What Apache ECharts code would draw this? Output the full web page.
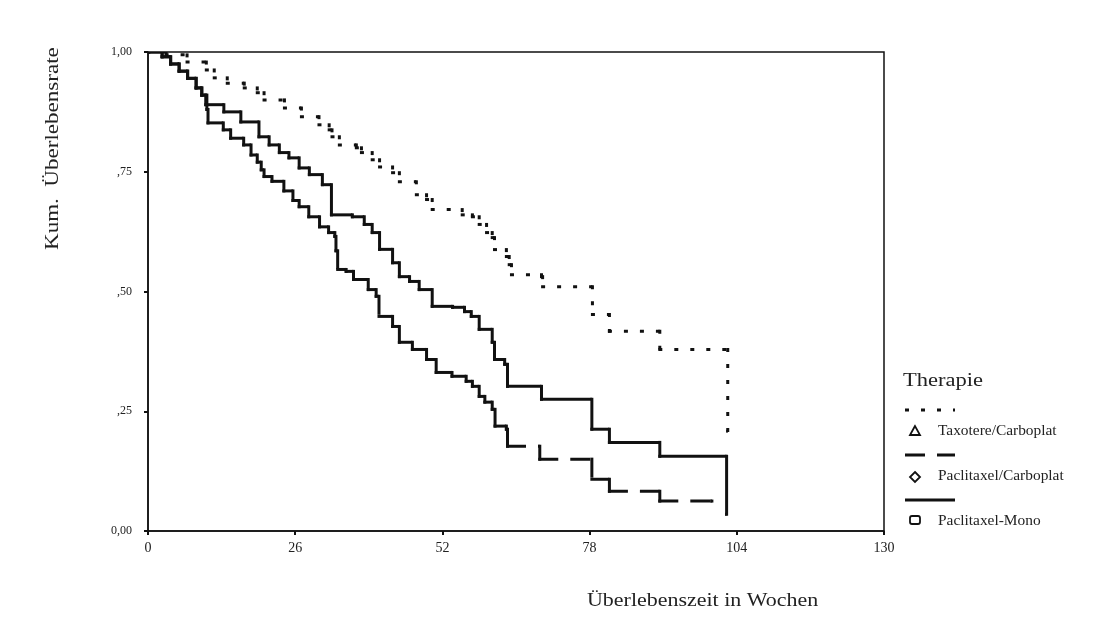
<!DOCTYPE html>
<html>
<head>
<meta charset="utf-8">
<script src="https://cdn.jsdelivr.net/npm/echarts@6/dist/echarts.min.js"></script>
<style>
  html, body { margin: 0; padding: 0; background: #fff; }
  #chart { width: 1106px; height: 644px; }
</style>
</head>
<body>
<div id="chart"></div>
<script>
// Kaplan-Meier survival curves by therapy arm: [week, cumulative survival]
const seriesNames = ['Taxotere/Carboplat', 'Paclitaxel/Carboplat', 'Paclitaxel-Mono'];

const taxotereCarbo = [
  [0, 1.0], [3.2, 0.994], [6.9, 0.979], [10.3, 0.9625], [11.7, 0.946], [14.0, 0.935],
  [17.0, 0.925], [19.3, 0.915], [20.5, 0.90], [24.1, 0.883], [27.1, 0.865], [30.2, 0.848],
  [32.0, 0.8375], [32.5, 0.823], [33.8, 0.806], [36.8, 0.80], [37.7, 0.79], [39.6, 0.775],
  [40.9, 0.76], [43.2, 0.748], [44.4, 0.729], [47.4, 0.702], [49.2, 0.692], [50.2, 0.671],
  [55.5, 0.66], [57.3, 0.656], [58.5, 0.64], [59.8, 0.623], [60.8, 0.6125], [61.2, 0.5875],
  [63.3, 0.573], [63.8, 0.556], [64.2, 0.535], [69.5, 0.531], [69.7, 0.51], [78.5, 0.452],
  [81.5, 0.417], [90.4, 0.379], [102.4, 0.208]
];

const paclitaxelCarbo = [
  [0, 1.0], [2.5, 0.99], [4, 0.975], [5.5, 0.96], [7, 0.945], [8.5, 0.925], [9.5, 0.91],
  [10.4, 0.88], [10.6, 0.852], [13.3, 0.8375], [14.6, 0.82], [16.9, 0.806], [18.2, 0.785],
  [19.3, 0.77], [20.0, 0.754], [20.5, 0.74], [21.9, 0.73], [24.0, 0.71], [25.6, 0.69],
  [26.7, 0.677], [28.4, 0.656], [30.3, 0.635], [31.9, 0.623], [33.0, 0.615], [33.2, 0.585],
  [33.5, 0.546], [35.0, 0.542], [36.3, 0.525], [38.9, 0.504], [40.3, 0.49], [40.8, 0.448],
  [43.2, 0.427], [44.4, 0.394], [46.7, 0.379], [49.2, 0.358], [50.9, 0.331], [53.7, 0.323],
  [56.2, 0.3125], [57.3, 0.302], [58.5, 0.281], [59.5, 0.269], [60.8, 0.254], [61.3, 0.219],
  [63.3, 0.2125], [63.5, 0.177], [69.2, 0.15], [78.4, 0.108], [81.5, 0.083], [90.4, 0.0625],
  [99.6, 0.0625]
];

const paclitaxelMono = [
  [0, 1.0], [2.5, 0.99], [4, 0.975], [5.5, 0.96], [7, 0.945], [8.5, 0.925], [9.5, 0.91],
  [10.2, 0.89], [13.4, 0.875], [16.4, 0.854], [19.6, 0.823], [21.4, 0.806], [23.2, 0.79],
  [24.9, 0.779], [26.7, 0.758], [28.5, 0.744], [30.8, 0.723], [32.4, 0.66], [36.1, 0.656],
  [38.2, 0.64], [39.6, 0.623], [40.9, 0.588], [43.2, 0.56], [44.4, 0.531], [46.2, 0.521],
  [47.9, 0.504], [50.2, 0.469], [53.8, 0.467], [55.9, 0.458], [57.1, 0.448], [58.5, 0.421],
  [60.8, 0.394], [61.2, 0.358], [63.0, 0.348], [63.5, 0.302], [69.5, 0.275], [78.4, 0.2125],
  [81.5, 0.185], [90.4, 0.156], [102.2, 0.035]
];

const xTicks = [0, 26, 52, 78, 104, 130];
const yTickLabels = { '0': '0,00', '0.25': ',25', '0.5': ',50', '0.75': ',75', '1': '1,00' };

const serif = '"Liberation Serif", "DejaVu Serif", serif';
const ink = '#111';

// dash patterns per arm: dotted, long dash, solid
const dashStyles = [[4, 12], [20, 12], null];
const curves = [taxotereCarbo, paclitaxelCarbo, paclitaxelMono];

// Each event: a drop at t_i, then a flat run until the next event.
// Drop and run are separate strokes so the dash pattern restarts on each one.
function toSteps(points) {
  return points.map((p, i) => {
    const prevS = i > 0 ? points[i - 1][1] : p[1];
    const nextT = i < points.length - 1 ? points[i + 1][0] : p[0];
    return [p[0], prevS, p[1], nextT];
  });
}

function stepRenderer(dash) {
  return function (params, api) {
    const t = api.value(0), s0 = api.value(1), s1 = api.value(2), tn = api.value(3);
    const a = api.coord([t, s0]);
    const b = api.coord([t, s1]);
    const c = api.coord([tn, s1]);
    const style = { stroke: ink, lineWidth: 3, fill: null, lineDash: dash, lineCap: 'butt' };
    // extend each stroke by half the line width so corners join cleanly
    const h = 1.5;
    return {
      type: 'group',
      children: [
        { type: 'line', shape: { x1: a[0], y1: a[1] - h, x2: b[0], y2: b[1] + h }, style: style },
        { type: 'line', shape: { x1: b[0] - h, y1: b[1], x2: c[0], y2: c[1] }, style: style }
      ]
    };
  };
}

const chart = echarts.init(document.getElementById('chart'));

// legend drawn as line sample above a symbol + label
const legendTop = 410, legendGap = 45;
const legendGraphics = [{
  type: 'text', x: 903, y: 372, scaleX: 1.25,
  style: { text: 'Therapie', font: '18px ' + serif, fill: '#222' }
}];
const markerShapes = [
  { type: 'polygon', shape: { points: [[915, 426], [910, 435], [920, 435]] } },
  { type: 'polygon', shape: { points: [[915, 472], [920, 477], [915, 482], [910, 477]] } },
  { type: 'rect', shape: { x: 910, y: 516, width: 10, height: 8, r: 2 } }
];
seriesNames.forEach((name, i) => {
  const y = legendTop + i * legendGap;
  legendGraphics.push({
    type: 'line',
    shape: { x1: 905, y1: y, x2: 955, y2: y },
    style: { stroke: ink, lineWidth: 3, lineDash: dashStyles[i] }
  });
  legendGraphics.push(Object.assign({}, markerShapes[i], {
    style: { fill: 'none', stroke: ink, lineWidth: 1.8 }
  }));
  legendGraphics.push({
    type: 'text', x: 938, y: y + 14, scaleX: 1.1,
    style: { text: name, font: '14px ' + serif, fill: '#222' }
  });
});

chart.setOption({
  backgroundColor: '#fff',
  animation: false,
  grid: {
    left: 148, top: 52, right: 222, bottom: 113,
    show: true, borderColor: ink, borderWidth: 1.5
  },
  xAxis: {
    type: 'value', min: 0, max: 130, interval: 26,
    axisLine: { show: true, lineStyle: { color: ink, width: 1.5 } },
    axisTick: { show: true, length: 4, lineStyle: { color: ink, width: 2 } },
    axisLabel: {
      color: '#222', fontFamily: serif, fontSize: 14, margin: 10,
      formatter: v => xTicks.includes(v) ? String(v) : ''
    },
    splitLine: { show: false }
  },
  yAxis: {
    type: 'value', min: 0, max: 1, interval: 0.25,
    axisLine: { show: true, lineStyle: { color: ink, width: 1.5 } },
    axisTick: { show: true, length: 4, lineStyle: { color: ink, width: 2 } },
    axisLabel: {
      color: '#222', fontFamily: serif, fontSize: 12, margin: 16,
      formatter: v => yTickLabels[String(v)] || ''
    },
    splitLine: { show: false }
  },
  graphic: [
    {
      type: 'text', x: 587, y: 592, scaleX: 1.22,
      style: { text: 'Überlebenszeit in Wochen', font: '18px ' + serif, fill: '#222' }
    },
    {
      type: 'text', x: 44, y: 250, rotation: Math.PI / 2, scaleX: 1.28,
      style: { text: 'Kum.  Überlebensrate', font: '18px ' + serif, fill: '#222', align: 'left', verticalAlign: 'top' }
    }
  ].concat(legendGraphics),
  series: curves.map((pts, i) => ({
    name: seriesNames[i],
    type: 'custom',
    silent: true,
    clip: true,
    encode: { x: [0, 3], y: [1, 2] },
    data: toSteps(pts),
    renderItem: stepRenderer(dashStyles[i])
  }))
});
</script>
</body>
</html>
